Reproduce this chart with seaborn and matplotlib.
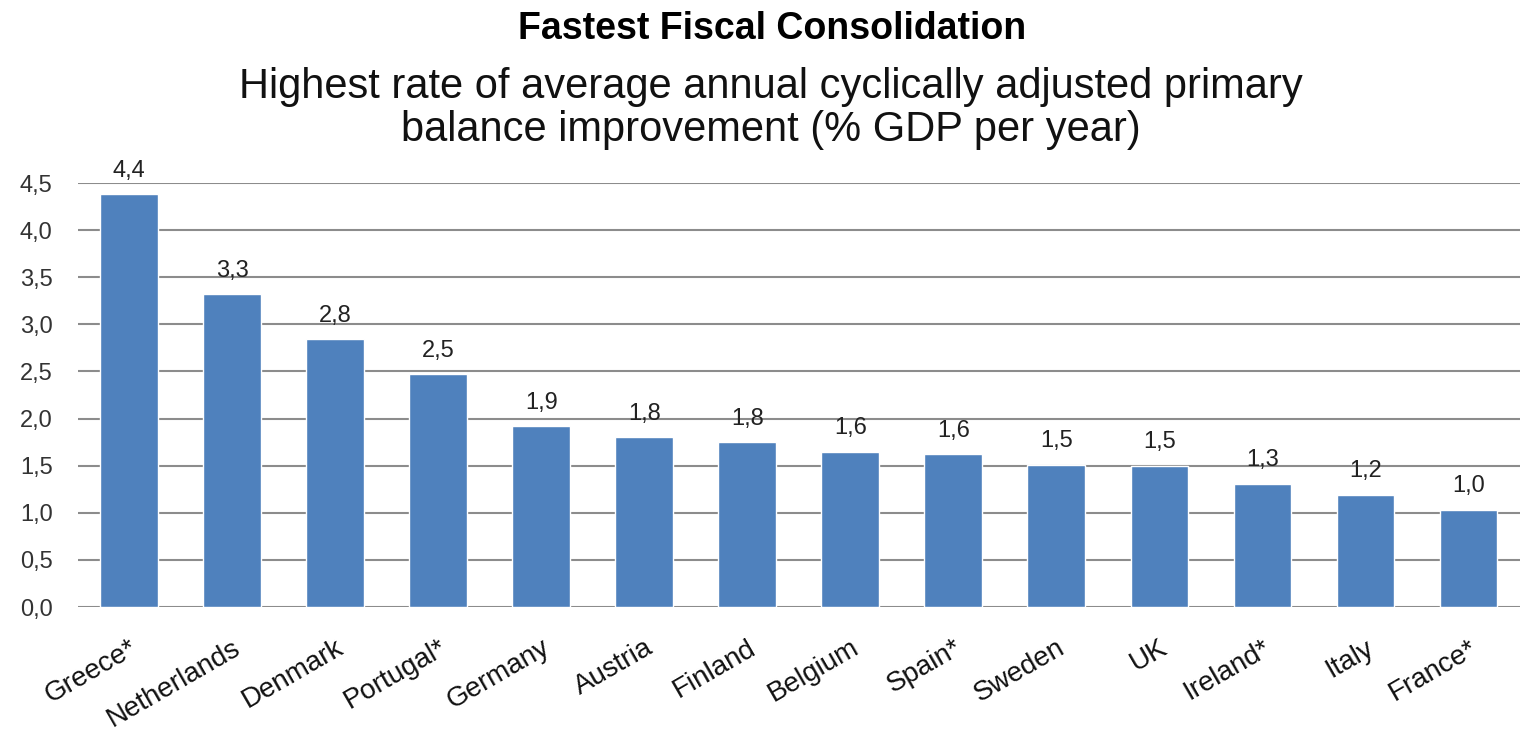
import numpy as np
import pandas as pd
import matplotlib.pyplot as plt
import seaborn as sns

countries = ["Greece*", "Netherlands", "Denmark", "Portugal*", "Germany", "Austria",
             "Finland", "Belgium", "Spain*", "Sweden", "UK", "Ireland*", "Italy", "France*"]
values = [4.38, 3.32, 2.84, 2.47, 1.92, 1.80, 1.75, 1.65, 1.62, 1.51, 1.50, 1.31, 1.19, 1.03]
labels = ["4,4", "3,3", "2,8", "2,5", "1,9", "1,8", "1,8", "1,6", "1,6", "1,5", "1,5", "1,3", "1,2", "1,0"]
yticks = [0, 0.5, 1.0, 1.5, 2.0, 2.5, 3.0, 3.5, 4.0, 4.5]

sns.set_style("white")
plt.rcParams['font.family'] = ['Liberation Sans', 'DejaVu Sans']

df = pd.DataFrame({"country": countries, "value": values})

fig = plt.figure(figsize=(15.2, 7.48), dpi=100)
ax = fig.add_axes([0.051, 0.1885, 0.949, 0.5668])
sns.barplot(data=df, x="country", y="value", color="#4F81BD", width=0.56,
            saturation=1, ax=ax, zorder=3)
ax.bar_label(ax.containers[0], labels=labels, padding=9, fontsize=17, color="#222222")

ax.set_ylim(0, 4.5)
ax.set_xlim(-0.5, len(countries) - 0.5)
ax.set_yticks(yticks)
ax.set_yticklabels([f"{t:.1f}".replace(".", ",") for t in yticks], fontsize=17, color="#333333")
ax.yaxis.grid(True, color="#8c8c8c", linewidth=1.5, zorder=0)
ax.set_axisbelow(True)
for s in ax.spines.values():
    s.set_visible(False)
ax.tick_params(axis="both", length=0)
ax.tick_params(axis="y", pad=18)
ax.set_xticks(range(len(countries)))
ax.set_xticklabels(countries, rotation=30, ha="right", rotation_mode="anchor",
                   fontsize=20, color="#111111")
ax.tick_params(axis="x", pad=20)
ax.set_xlabel("")
ax.set_ylabel("")

fig.text(0.508, 0.961, "Fastest Fiscal Consolidation", ha="center", va="center",
         fontsize=27, fontweight="bold", color="black")
fig.text(0.507, 0.855, "Highest rate of average annual cyclically adjusted primary\nbalance improvement (% GDP per year)",
         ha="center", va="center", fontsize=30, linespacing=1.08, color="#111111")

fig.savefig("out.png", dpi=100)
